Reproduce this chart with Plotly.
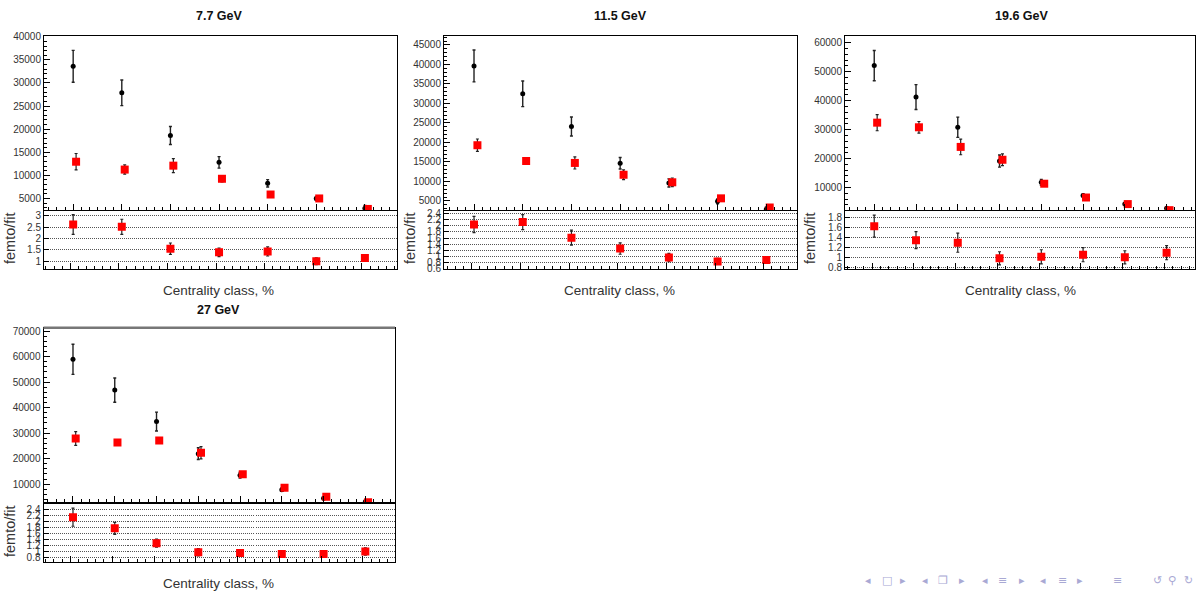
import numpy as np
import plotly.graph_objects as go

W, H = 1196, 596

# ---------------------------------------------------------------------------
# Data: femtoscopic yield vs. fit yield per centrality class, and their ratio
# ---------------------------------------------------------------------------
energies = ["7.7 GeV", "11.5 GeV", "19.6 GeV", "27 GeV"]

femto_77 = [33600, 27860, 18630, 12810, 8270, 5000, 2870]
femto_77_err = [3450, 2770, 1950, 1250, 800, 400, 600]
fit_77 = [12950, 11250, 12100, 9260, 5850, 5000, 2730]
fit_77_err = [1780, 1000, 1500, 700, 400, 300, 300]
ratio_77 = [2.61, 2.51, 1.55, 1.39, 1.43, 1.00, 1.14]
ratio_77_err = [0.43, 0.33, 0.25, 0.19, 0.20, 0.15, 0.15]

femto_115 = [39620, 32480, 24080, 14660, 9620, 4900, 2850]
femto_115_err = [4080, 3280, 2440, 1470, 1050, 600, 600]
fit_115 = [19290, 15250, 14750, 11720, 9790, 5670, 3320]
fit_115_err = [1600, 400, 1550, 1260, 1100, 400, 300]
ratio_115 = [2.05, 2.13, 1.61, 1.25, 0.95, 0.82, 0.87]
ratio_115_err = [0.27, 0.25, 0.25, 0.19, 0.14, 0.10, 0.10]

femto_196 = [52080, 41220, 30810, 19160, 11810, 7300, 4340, 2880]
femto_196_err = [5200, 4300, 3500, 2100, 1000, 400, 400, 500]
fit_196 = [32400, 30800, 24030, 19600, 11330, 6570, 4300, 2200]
fit_196_err = [2800, 2000, 2700, 2000, 800, 400, 400, 300]
ratio_196 = [1.62, 1.34, 1.29, 0.98, 1.01, 1.05, 1.00, 1.09]
ratio_196_err = [0.22, 0.17, 0.19, 0.13, 0.14, 0.14, 0.13, 0.14]

femto_27 = [58950, 46870, 34540, 21950, 13470, 7820, 4480, 3100]
femto_27_err = [5900, 4750, 3700, 2300, 1100, 600, 500, 700]
fit_27 = [27860, 26310, 27080, 22330, 13850, 8590, 5030, 2900]
fit_27_err = [2700, 500, 500, 2400, 700, 500, 400, 300]
ratio_27 = [2.13, 1.76, 1.27, 0.97, 0.94, 0.91, 0.91, 0.99]
ratio_27_err = [0.30, 0.20, 0.13, 0.12, 0.10, 0.08, 0.10, 0.12]

# Axis tick labels
yticks_77 = [5000, 10000, 15000, 20000, 25000, 30000, 35000, 40000]
rticks_77 = [1, 1.5, 2, 2.5, 3]
yticks_115 = [5000, 10000, 15000, 20000, 25000, 30000, 35000, 40000, 45000]
rticks_115 = [0.6, 0.8, 1, 1.2, 1.4, 1.6, 1.8, 2, 2.2, 2.4]
yticks_196 = [10000, 20000, 30000, 40000, 50000, 60000]
rticks_196 = [0.8, 1, 1.2, 1.4, 1.6, 1.8]
yticks_27 = [10000, 20000, 30000, 40000, 50000, 60000, 70000]
rticks_27 = [0.8, 1, 1.2, 1.4, 1.6, 1.8, 2, 2.2, 2.4]

series = [
    (femto_77, femto_77_err, fit_77, fit_77_err, ratio_77, ratio_77_err, yticks_77, rticks_77),
    (femto_115, femto_115_err, fit_115, fit_115_err, ratio_115, ratio_115_err, yticks_115, rticks_115),
    (femto_196, femto_196_err, fit_196, fit_196_err, ratio_196, ratio_196_err, yticks_196, rticks_196),
    (femto_27, femto_27_err, fit_27, fit_27_err, ratio_27, ratio_27_err, yticks_27, rticks_27),
]

# ---------------------------------------------------------------------------
# Pad geometry (pixels) and styling
# ---------------------------------------------------------------------------
pads = [
    dict(xpx=(44, 397), top=(31.5, 208.5), bot=(209.8, 268.3), xr=(0.40, 7.66),
         yr=(2500, 40170), rr=(0.67, 3.19), yminor=1000, xminor=1 / 6,
         fit_dx=0.06, rtick_dx=-0.06, title=(219, 11), xtitle=(218, 290), ytitle=(10, 237)),
    dict(xpx=(444, 797), top=(31.5, 208.5), bot=(209.8, 268.3), xr=(0.384, 7.63),
         yr=(2680, 47310), rr=(0.575, 2.49), yminor=1000, xminor=1 / 6,
         fit_dx=0.07, rtick_dx=-0.05, title=(620, 11), xtitle=(619, 290), ytitle=(410, 237)),
    dict(xpx=(845, 1195), top=(31.5, 208.5), bot=(209.8, 268.3), xr=(0.30, 8.68),
         yr=(2260, 62310), rr=(0.77, 1.916), yminor=2000, xminor=1 / 5,
         fit_dx=0.07, rtick_dx=-0.05, title=(1021, 11), xtitle=(1020, 290), ytitle=(810, 237)),
    dict(xpx=(43.5, 395), top=(328.3, 505.7), bot=(507.3, 566.7), xr=(0.294, 8.71),
         yr=(2910, 71310), rr=(0.637, 2.576), yminor=2000, xminor=1 / 5,
         fit_dx=0.065, rtick_dx=-0.06, title=(218, 310), xtitle=(218, 588), ytitle=(10, 535)),
]

FONT = "Liberation Sans, Arial, Helvetica, sans-serif"
TICK_FONT = dict(family=FONT, size=10, color="#333333")
ERR_COLOR = "#222222"


def fx(px):
    return px / W


def fy(py):
    return 1 - py / H


fig = go.Figure()
layout = dict(
    width=W, height=H, margin=dict(l=0, r=0, t=0, b=0),
    paper_bgcolor="white", plot_bgcolor="white", showlegend=False,
    font=dict(family=FONT, color="#222222"),
)
annotations = []
shapes = []


def axis_name(kind, k):
    return kind if k == 1 else f"{kind}{k}"


for i, (femto, femto_err, fit, fit_err, ratio, ratio_err, yticks, rticks) in enumerate(series):
    g = pads[i]
    n = len(femto)
    x = np.arange(1, n + 1)
    kt, kr = 2 * i + 1, 2 * i + 2
    xt, yt = axis_name("x", kt), axis_name("y", kt)
    xr_, yr_ = axis_name("x", kr), axis_name("y", kr)

    # Upper pad: femtoscopic (black circles) and fit (red squares)
    fig.add_trace(go.Scatter(
        x=x, y=femto, mode="markers", xaxis=xt, yaxis=yt,
        marker=dict(symbol="circle", size=5, color="black"),
        error_y=dict(type="data", array=femto_err, color=ERR_COLOR, thickness=1.4, width=1.5),
    ))
    fig.add_trace(go.Scatter(
        x=x + g["fit_dx"], y=fit, mode="markers", xaxis=xt, yaxis=yt,
        marker=dict(symbol="square", size=8, color="#ff0000"),
        error_y=dict(type="data", array=fit_err, color=ERR_COLOR, thickness=1.2, width=1.5),
    ))
    # Lower pad: ratio femto/fit
    fig.add_trace(go.Scatter(
        x=x, y=ratio, mode="markers", xaxis=xr_, yaxis=yr_,
        marker=dict(symbol="square", size=8, color="#ff0000"),
        error_y=dict(type="data", array=ratio_err, color=ERR_COLOR, thickness=1.2, width=1.5),
    ))

    xdom = [fx(g["xpx"][0]), fx(g["xpx"][1])]
    frame = dict(showline=True, mirror=True, linecolor="black", linewidth=1,
                 zeroline=False, showgrid=False)

    layout[axis_name("xaxis", kt)] = dict(
        domain=xdom, range=list(g["xr"]), anchor=yt, ticks="inside", ticklen=6,
        tickcolor="black", tickmode="array", tickvals=list(x), showticklabels=False,
        minor=dict(ticks="inside", ticklen=3, tickcolor="black", tickmode="linear",
                   tick0=0, dtick=g["xminor"]),
        **frame)
    layout[axis_name("yaxis", kt)] = dict(
        domain=[fy(g["top"][1]), fy(g["top"][0])], range=list(g["yr"]), anchor=xt,
        ticks="inside", ticklen=6, tickcolor="black", tickmode="array",
        tickvals=yticks, ticktext=[str(v) for v in yticks], tickfont=TICK_FONT,
        minor=dict(ticks="inside", ticklen=3, tickcolor="black", tickmode="linear",
                   tick0=0, dtick=g["yminor"]),
        **frame)
    layout[axis_name("xaxis", kr)] = dict(
        domain=xdom, range=list(g["xr"]), anchor=yr_, ticks="inside", ticklen=6,
        tickcolor="black", tickmode="array", tickvals=list(x + g["rtick_dx"]),
        showticklabels=False,
        minor=dict(ticks="inside", ticklen=3, tickcolor="black", tickmode="linear",
                   tick0=g["rtick_dx"], dtick=g["xminor"]),
        **frame)
    rframe = dict(frame)
    rframe["showgrid"] = True
    layout[axis_name("yaxis", kr)] = dict(
        domain=[fy(g["bot"][1]), fy(g["bot"][0])], range=list(g["rr"]), anchor=xr_,
        ticks="inside", ticklen=5, tickcolor="black", tickmode="array",
        tickvals=rticks, ticktext=[f"{v:g}" for v in rticks], tickfont=TICK_FONT,
        gridcolor="#555555", gridwidth=1, griddash="1px,1px",
        **rframe)

    annotations.append(dict(
        text=f"<b>{energies[i]}</b>", x=fx(g["title"][0]), y=fy(g["title"][1]),
        xref="paper", yref="paper", xanchor="center", yanchor="middle",
        showarrow=False, font=dict(family=FONT, size=12.5, color="#111111")))
    annotations.append(dict(
        text="Centrality class, %", x=fx(g["xtitle"][0]), y=fy(g["xtitle"][1]),
        xref="paper", yref="paper", xanchor="center", yanchor="middle",
        showarrow=False, font=dict(family=FONT, size=13.5, color="#333333")))
    annotations.append(dict(
        text="femto/fit", x=fx(g["ytitle"][0]), y=fy(g["ytitle"][1]), textangle=-90,
        xref="paper", yref="paper", xanchor="center", yanchor="middle",
        showarrow=False, font=dict(family=FONT, size=14.5, color="#333333")))

# Heavier pad border along the top of the 27 GeV pad
g4 = pads[3]
shapes.append(dict(type="line", xref="paper", yref="paper",
                   x0=fx(g4["xpx"][0]), x1=fx(g4["xpx"][1]),
                   y0=fy(g4["top"][0]), y1=fy(g4["top"][0]),
                   line=dict(color="#777777", width=2.5)))

# Slide navigation symbols, bottom right
nav = [("◂", 868), ("□", 887), ("▸", 903), ("◂", 925), ("❐", 943), ("▸", 962),
       ("◂", 985), ("≡", 1002), ("▸", 1022), ("◂", 1043), ("≡", 1062), ("▸", 1080),
       ("≡", 1117), ("↺", 1157), ("⚲", 1172), ("↻", 1188)]
for glyph, px in nav:
    annotations.append(dict(
        text=glyph, x=fx(px), y=fy(585), xref="paper", yref="paper",
        xanchor="center", yanchor="middle", showarrow=False,
        font=dict(family="DejaVu Sans", size=11, color="#a9a9d4")))

layout["annotations"] = annotations
layout["shapes"] = shapes
fig.update_layout(**layout)

fig.write_html("out.html")
